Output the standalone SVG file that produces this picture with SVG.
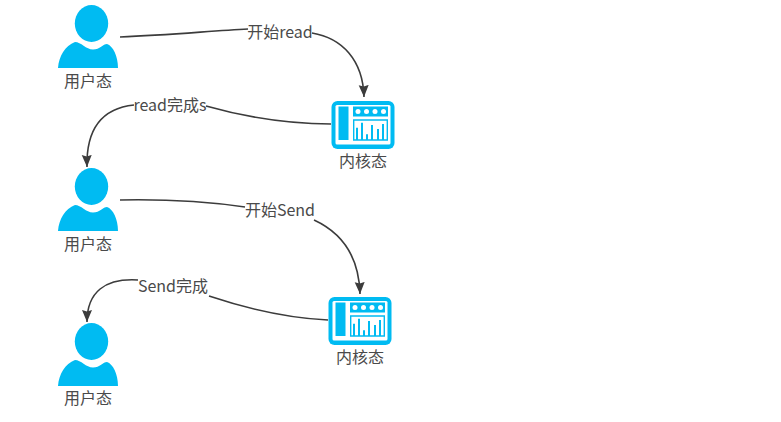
<svg xmlns="http://www.w3.org/2000/svg" width="781" height="422" viewBox="0 0 781 422">
<style>
text{font-family:"Noto Sans CJK SC","Liberation Sans",sans-serif;font-size:16px;fill:#4a4a4a;text-anchor:middle}
.c{fill:none;stroke:#3c3c3c;stroke-width:1.6}
.i{fill:#00bbf2}
.b{fill:#fff}
</style>
<defs>
<marker id="a" markerUnits="userSpaceOnUse" markerWidth="13" markerHeight="12" refX="12" refY="5" orient="auto"><path d="M0 0L12 5L0 10L1.500 5Z" fill="#3c3c3c"/></marker>
<g id="user"><ellipse cx="36.500" cy="19.500" rx="16.700" ry="18.500" class="i"/><path class="i" d="M3 64C4 52 10 42 20 38C26 38 31 45.500 38 45.500C45 45.500 48 40 52 40C58 42 63 52 63 64Z"/></g>
<g id="kern"><rect x="0.500" y="1" width="63" height="48" rx="6" class="i"/><rect x="4.500" y="5" width="55" height="39.500" rx="1.500" class="b"/><rect x="7.500" y="6.500" width="10" height="33.500" class="i"/><rect x="22" y="6.500" width="35" height="10" class="i"/><g class="b"><circle cx="27" cy="11.500" r="2.500"/><circle cx="35.500" cy="11.500" r="2.500"/><circle cx="44" cy="11.500" r="2.500"/><circle cx="52.500" cy="11.500" r="2.500"/></g><path d="M22.700 40V20H56.300V40Z" stroke="#00bbf2" stroke-width="1.400" fill="none"/><path d="M26 40V27.700M31 40V22.700M36 40V34.300M41 40V25M47 40V29M52 40V24" stroke="#00bbf2" stroke-width="2" fill="none"/></g>
</defs>
<g id="connectors">
<path class="c" d="M120 37C170 35 210 31 248 29"/>
<path class="c" d="M312 33C342 38 363 60 364 97" marker-end="url(#a)"/>
<path class="c" d="M331 124C290 124 245 117 206 106"/>
<path class="c" d="M134 105C105 108 86 125 87 167" marker-end="url(#a)"/>
<path class="c" d="M120 200C170 199 210 202 245 207"/>
<path class="c" d="M314 220C340 232 359 255 360 294" marker-end="url(#a)"/>
<path class="c" d="M328 320C285 318 245 308 209 296"/>
<path class="c" d="M138 280C105 278 87 292 87 322" marker-end="url(#a)"/>
</g>
<g id="user1"><use href="#user" x="55" y="4"/><text x="88" y="87">用户态</text></g>
<g id="kernel1"><use href="#kern" x="331" y="100"/><text x="363" y="167">内核态</text></g>
<g id="user2"><use href="#user" x="55" y="167"/><text x="88" y="250">用户态</text></g>
<g id="kernel2"><use href="#kern" x="328" y="296"/><text x="360" y="363">内核态</text></g>
<g id="user3"><use href="#user" x="55" y="322"/><text x="88" y="404">用户态</text></g>
<g id="labels">
<text x="280" y="38">开始read</text>
<text x="170" y="111">read完成s</text>
<text x="280" y="216">开始Send</text>
<text x="173" y="292">Send完成</text>
</g>
</svg>
